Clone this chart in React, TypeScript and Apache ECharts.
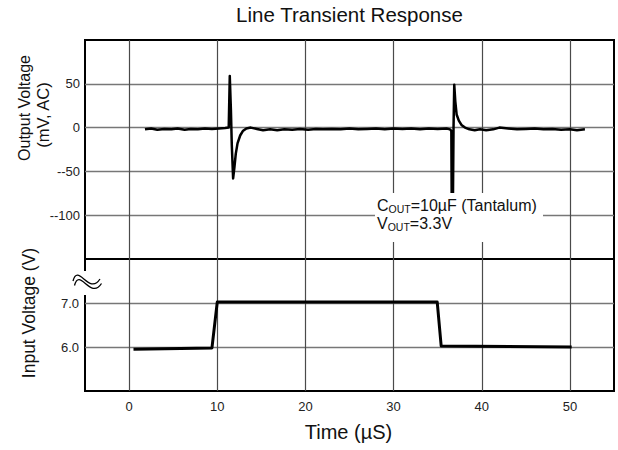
import React, { useEffect, useRef } from 'react';
import * as echarts from 'echarts';

// Output voltage (mV, AC) vs time (µS)
const outputTrace: [number, number][] = [
  [1.8, -2], [2.5, -1], [3.2, -2.5], [4, -1.5], [4.8, -2], [5.5, -1], [6.3, -2.5], [7, -1.5],
  [7.8, -2], [8.6, -1], [9.4, -1.5], [10.2, -1], [10.9, -0.5], [11.3, 0], [11.42, 59],
  [11.55, 20], [11.65, -20], [11.8, -58], [11.95, -45], [12.1, -30], [12.3, -18], [12.6, -9],
  [12.9, -4], [13.3, -1], [13.8, 0], [14.5, -1.5], [15.2, -3], [16, -2], [16.8, -3], [17.6, -2],
  [18.5, -2.5], [19.4, -1.5], [20.3, -2.5], [21.2, -1.5], [22, -2], [23, -1.5], [24, -2],
  [25, -1], [26, -2], [27, -1.5], [28, -1], [29, -2], [30, -1], [31, -1.5], [32, -1], [33, -2],
  [34, -1], [35, -1.5], [36, -1], [36.4, -2], [36.55, -4], [36.6, -100], [36.72, -100],
  [36.8, 0], [36.88, 49], [37.0, 30], [37.15, 15], [37.4, 8], [37.7, 3], [38.1, 0], [38.6, -2],
  [39.2, -3], [39.8, -2], [40.5, -3], [41.3, -2], [42, 0], [43, -1], [44, -2], [45, -1.5],
  [46, -1], [47, -2], [48, -1.5], [49, -2.5], [50, -2], [50.8, -3], [51.7, -2],
];

// Input voltage (V) vs time (µS)
const inputTrace: [number, number][] = [
  [0.5, 5.95], [9.4, 5.98], [10.0, 7.02], [34.95, 7.02], [35.4, 6.02], [50.2, 6.0],
];

const xTickValues = [0, 10, 20, 30, 40, 50];
const xTickLabels = ['0', '10', '20', '30', '40', '50'];
const outTickValues = [50, 0, -50, -100];
const outTickLabels = ['50', '0', '--50', '--100'];
const inTickValues = [7, 6];
const inTickLabels = ['7.0', '6.0'];

const FONT = '"Liberation Sans", Arial, Helvetica, sans-serif';

function labelFor(values: number[], labels: string[]) {
  return (v: number) => {
    const i = values.findIndex((t) => Math.abs(t - v) < 1e-6);
    return i >= 0 ? labels[i] : '';
  };
}

const L = 85;
const R = 614;
const T = 40;
const MID = 259;
const B = 391;

export default function App() {
  const ref = useRef<HTMLDivElement>(null);
  useEffect(() => {
    if (!ref.current) return;
    const chart = echarts.init(ref.current, undefined, { renderer: 'svg' });
    const vSplit = { show: true, showMinLine: false, showMaxLine: false, lineStyle: { color: '#4a4a4a', width: 1.2 } };
    const hSplit = { show: true, showMinLine: false, showMaxLine: false, lineStyle: { color: '#777', width: 1.4 } };
    const tickLabel = { fontSize: 13, color: '#222', fontFamily: FONT };
    chart.setOption({
      animation: false,
      backgroundColor: '#fff',
      grid: [
        { left: L, top: T, width: R - L, height: MID - T, show: true, borderColor: '#000', borderWidth: 2, backgroundColor: 'transparent' },
        { left: L, top: MID, width: R - L, height: B - MID, show: true, borderColor: '#000', borderWidth: 2, backgroundColor: 'transparent' },
      ],
      xAxis: [
        {
          type: 'value', gridIndex: 0, min: -5, max: 55, splitNumber: 6,
          axisLine: { show: false }, axisTick: { show: false }, axisLabel: { show: false },
          splitLine: vSplit,
        },
        {
          type: 'value', gridIndex: 1, min: -5, max: 55, splitNumber: 6,
          axisLine: { show: false }, axisTick: { show: false },
          axisLabel: { ...tickLabel, margin: 9, formatter: labelFor(xTickValues, xTickLabels) },
          splitLine: vSplit,
        },
      ],
      yAxis: [
        {
          type: 'value', gridIndex: 0, min: -150, max: 100, interval: 50,
          axisLine: { show: false }, axisTick: { show: false },
          axisLabel: { ...tickLabel, margin: 5, formatter: labelFor(outTickValues, outTickLabels) },
          splitLine: hSplit,
        },
        {
          type: 'value', gridIndex: 1, min: 5, max: 8, interval: 1,
          axisLine: { show: false }, axisTick: { show: false },
          axisLabel: { ...tickLabel, margin: 6, formatter: labelFor(inTickValues, inTickLabels) },
          splitLine: hSplit,
        },
      ],
      series: [
        {
          type: 'line', xAxisIndex: 0, yAxisIndex: 0, data: outputTrace, showSymbol: false,
          lineStyle: { color: '#000', width: 2.5, join: 'round' }, z: 5,
        },
        {
          type: 'line', xAxisIndex: 1, yAxisIndex: 1, data: inputTrace, showSymbol: false,
          lineStyle: { color: '#000', width: 3, join: 'round' }, z: 5,
        },
      ],
      graphic: [
        {
          type: 'text', x: (L + R) / 2, y: 14, z: 100,
          style: { text: 'Line Transient Response', fontSize: 20.5, fontFamily: FONT, fill: '#111', align: 'center', verticalAlign: 'middle' },
        },
        {
          type: 'text', x: (L + R) / 2 - 1, y: 432, z: 100,
          style: { text: 'Time (µS)', fontSize: 20, fontFamily: FONT, fill: '#111', align: 'center', verticalAlign: 'middle' },
        },
        {
          type: 'text', x: 24, y: 108, rotation: Math.PI / 2, z: 100,
          style: { text: 'Output Voltage', fontSize: 16, fontFamily: FONT, fill: '#111', align: 'center', verticalAlign: 'middle' },
        },
        {
          type: 'text', x: 43, y: 115, rotation: Math.PI / 2, z: 100,
          style: { text: '(mV, AC)', fontSize: 16.5, fontFamily: FONT, fill: '#111', align: 'center', verticalAlign: 'middle' },
        },
        {
          type: 'text', x: 29, y: 313, rotation: Math.PI / 2, z: 100,
          style: { text: 'Input Voltage (V)', fontSize: 17.5, fontFamily: FONT, fill: '#111', align: 'center', verticalAlign: 'middle' },
        },
        {
          type: 'rect', z: 100,
          shape: { x: 375, y: 193, width: 168, height: 49 },
          style: { fill: '#fff' },
        },
        {
          type: 'text', x: 377, y: 196, z: 101,
          style: {
            text: '{n|C}{s|OUT}{n|=10µF (Tantalum)}\n{n|V}{s|OUT}{n|=3.3V}',
            fontFamily: FONT,
            fill: '#111',
            rich: {
              n: { fontSize: 16, fontFamily: FONT, fill: '#111', lineHeight: 18 },
              s: { fontSize: 10.5, fontFamily: FONT, fill: '#111', lineHeight: 10, verticalAlign: 'bottom' },
            },
          },
        },
        {
          type: 'rect', z: 100,
          shape: { x: 82, y: 271, width: 6, height: 24 },
          style: { fill: '#fff' },
        },
        {
          type: 'bezierCurve', z: 101,
          shape: { x1: 73, y1: 281, cpx1: 78, cpy1: 262, cpx2: 89, cpy2: 296, x2: 100, y2: 279 },
          style: { stroke: '#000', lineWidth: 1.3, fill: 'none' },
        },
        {
          type: 'bezierCurve', z: 101,
          shape: { x1: 74.5, y1: 285.5, cpx1: 79.5, cpy1: 266.5, cpx2: 90.5, cpy2: 300.5, x2: 101.5, y2: 283.5 },
          style: { stroke: '#000', lineWidth: 1.3, fill: 'none' },
        },
      ],
    });
    return () => chart.dispose();
  }, []);
  return <div ref={ref} style={{ position: 'absolute', left: 0, top: 0, width: 618, height: 450 }} />;
}
